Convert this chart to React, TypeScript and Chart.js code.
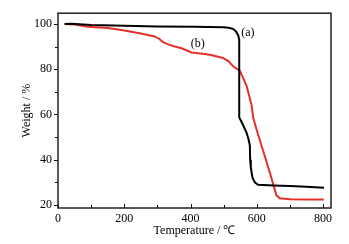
import React, { useEffect, useRef } from "react";
import { Chart, registerables } from "chart.js";

Chart.register(...registerables);

// Data
const seriesAX = [20, 40, 100, 200, 300, 413, 498, 515, 528, 537, 544, 547, 547, 553, 561, 569, 575, 579, 580, 582, 587, 594, 604, 650, 700, 750, 803];
const seriesAY = [100, 100.1, 99.6, 99.2, 98.9, 98.8, 98.6, 98.4, 97.9, 96.8, 95, 93, 58.6, 57, 54.5, 52, 49, 46.4, 40, 36.4, 32, 30, 28.9, 28.6, 28.3, 28, 27.6];
const seriesBX = [20, 50, 90, 150, 192, 250, 292, 305, 317, 332, 350, 373, 403, 430, 458, 498, 515, 528, 549, 569, 584, 589, 600, 620, 640, 659, 669, 700, 750, 802];
const seriesBY = [100, 99.8, 98.8, 98.2, 97.4, 95.8, 94.5, 93.5, 92, 91, 90.2, 89.3, 87.4, 87, 86.4, 85, 83.5, 81.4, 79.3, 72.8, 64.3, 58.6, 53, 43.5, 34, 24.3, 22.9, 22.5, 22.4, 22.4];
const xTickLabels = [0, 200, 400, 600, 800];
const xMinorTicks = [100, 300, 500, 700];
const yTickLabels = [20, 40, 60, 80, 100];
const yMinorTicks = [30, 50, 70, 90];
const labelA = { text: "(a)", x: 573, y: 96.3 };
const labelB = { text: "(b)", x: 422, y: 91.1 };

const FONT = '"Liberation Serif", "Times New Roman", serif';

const framePlugin = {
  id: "frame",
  afterDraw(chart: any) {
    const { ctx, chartArea, scales } = chart;
    const { left, right, top, bottom } = chartArea;
    const x = scales.x;
    const y = scales.y;
    ctx.save();
    ctx.strokeStyle = "#222";
    ctx.lineWidth = 1.5;
    ctx.strokeRect(left, top, right - left, bottom - top);
    ctx.lineWidth = 1;
    ctx.strokeStyle = "#111";
    ctx.beginPath();
    for (const v of xTickLabels) {
      const px = Math.round(x.getPixelForValue(v)) + 0.5;
      ctx.moveTo(px, bottom);
      ctx.lineTo(px, bottom - 4);
    }
    for (const v of xMinorTicks) {
      const px = Math.round(x.getPixelForValue(v)) + 0.5;
      ctx.moveTo(px, bottom);
      ctx.lineTo(px, bottom - 3);
    }
    for (const v of yTickLabels) {
      const py = Math.round(y.getPixelForValue(v)) + 0.5;
      ctx.moveTo(left, py);
      ctx.lineTo(left - 4, py);
    }
    for (const v of yMinorTicks) {
      const py = Math.round(y.getPixelForValue(v)) + 0.5;
      ctx.moveTo(left, py);
      ctx.lineTo(left - 3, py);
    }
    ctx.stroke();
    ctx.fillStyle = "#000";
    ctx.font = "12px " + FONT;
    ctx.textAlign = "center";
    ctx.textBaseline = "middle";
    for (const l of [labelA, labelB]) {
      ctx.fillText(l.text, x.getPixelForValue(l.x), y.getPixelForValue(l.y));
    }
    ctx.restore();
  },
};

export default function App() {
  const ref = useRef<HTMLCanvasElement>(null);
  useEffect(() => {
    document.body.style.margin = "0";
    const canvas = ref.current!;
    const chart = new Chart(canvas, {
      type: "line",
      data: {
        datasets: [
          {
            label: "(a)",
            data: seriesAX.map((v, i) => ({ x: v, y: seriesAY[i] })),
            borderColor: "#000",
            borderWidth: 2,
            pointRadius: 0,
            tension: 0,
          },
          {
            label: "(b)",
            data: seriesBX.map((v, i) => ({ x: v, y: seriesBY[i] })),
            borderColor: "#e3302b",
            borderWidth: 2,
            pointRadius: 0,
            tension: 0,
          },
        ],
      },
      options: {
        animation: false,
        responsive: false,
        events: [],
        layout: { padding: { top: 7, right: 18, left: 0, bottom: 0 } },
        plugins: { legend: { display: false }, tooltip: { enabled: false } },
        scales: {
          x: {
            type: "linear",
            min: 0,
            max: 824,
            grid: { display: false, drawTicks: false },
            border: { display: false },
            afterBuildTicks: (s: any) => {
              s.ticks = xTickLabels.map((v) => ({ value: v }));
            },
            afterFit: (s: any) => {
              s.height = 36;
            },
            ticks: {
              padding: 4,
              color: "#000",
              font: { family: FONT, size: 12 },
              maxRotation: 0,
            },
            title: {
              display: true,
              text: "Temperature / ℃",
              color: "#000",
              font: { family: FONT, size: 12 },
              padding: { top: 0, bottom: 6 },
            },
          },
          y: {
            type: "linear",
            min: 18.6,
            max: 104.8,
            grid: { display: false, drawTicks: false },
            border: { display: false },
            afterBuildTicks: (s: any) => {
              s.ticks = yTickLabels.map((v) => ({ value: v }));
            },
            afterFit: (s: any) => {
              s.width = 58;
            },
            ticks: {
              padding: 6,
              color: "#000",
              font: { family: FONT, size: 12 },
            },
            title: {
              display: true,
              text: "Weight / %",
              color: "#000",
              font: { family: FONT, size: 12 },
              padding: { top: 20, bottom: 0 },
            },
          },
        },
      },
      plugins: [framePlugin],
    });
    return () => chart.destroy();
  }, []);
  return <canvas ref={ref} width={349} height={244} style={{ display: "block" }} />;
}
